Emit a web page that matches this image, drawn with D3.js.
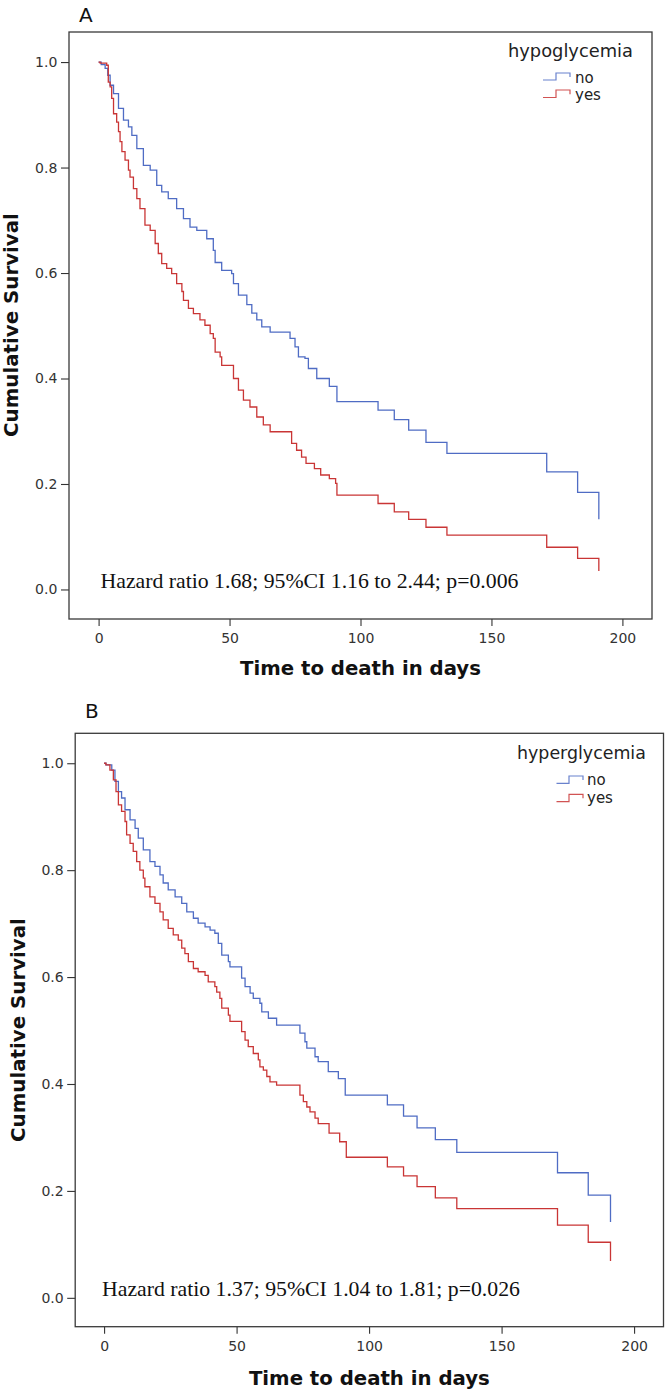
<!DOCTYPE html>
<html><head><meta charset="utf-8">
<script src="https://cdn.jsdelivr.net/npm/d3@7/dist/d3.min.js"></script>
<style>body{margin:0;background:#fff}</style>
</head><body><svg id="c" width="666" height="1391"></svg>
<script>
// ---- data (time in days, cumulative survival after event) ----
const xTickValues = [0, 50, 100, 150, 200];
const yTickValues = [0, 0.2, 0.4, 0.6, 0.8, 1.0];
const groupLabels = ["no", "yes"];
const panelLetters = ["A", "B"];
const legendTitles = ["hypoglycemia", "hyperglycemia"];
const hazardNotes = [
  "Hazard ratio 1.68; 95%CI 1.16 to 2.44; p=0.006",
  "Hazard ratio 1.37; 95%CI 1.04 to 1.81; p=0.026"
];

const hypoNo = [[0,1],[1.0,0.995],[2.5,0.988],[3.5,0.975],[4.4,0.956],[5.7,0.940],[7.6,0.912],[9.5,0.890],[11.4,0.877],[12.7,0.861],[14.6,0.836],[17.1,0.804],[19.7,0.795],[22.2,0.766],[24.1,0.754],[26.6,0.741],[29.8,0.722],[32.4,0.703],[34.9,0.687],[37.5,0.681],[41.3,0.665],[43.8,0.643],[44.5,0.620],[47.0,0.605],[50.8,0.599],[51.5,0.580],[53.4,0.558],[56.6,0.540],[58.5,0.524],[60.4,0.511],[62.3,0.498],[65.5,0.488],[73.1,0.476],[75.0,0.460],[76.3,0.441],[78.8,0.438],[80.1,0.419],[83.3,0.400],[88.1,0.385],[91.0,0.356],[106.7,0.340],[112.9,0.322],[118.4,0.302],[125.0,0.279],[133.0,0.258],[171.1,0.223],[182.9,0.184],[191.0,0.184],[191.0,0.133]];
const hypoYes = [[0,1],[0.6,0.998],[3.1,0.994],[3.7,0.962],[4.4,0.953],[5.0,0.931],[5.7,0.902],[6.9,0.886],[7.6,0.868],[8.2,0.849],[8.9,0.830],[10.1,0.814],[11.4,0.795],[12.0,0.782],[13.3,0.760],[14.6,0.741],[15.8,0.722],[17.7,0.691],[19.7,0.681],[21.6,0.656],[22.8,0.637],[24.1,0.618],[26.0,0.609],[27.9,0.599],[29.8,0.580],[31.8,0.565],[32.4,0.548],[34.3,0.533],[36.2,0.523],[38.7,0.511],[40.6,0.501],[42.6,0.485],[43.8,0.476],[44.5,0.450],[46.4,0.441],[47.0,0.425],[51.5,0.400],[53.4,0.378],[55.3,0.359],[57.8,0.346],[60.4,0.327],[62.9,0.312],[65.5,0.299],[73.7,0.277],[75.6,0.264],[77.5,0.251],[79.2,0.239],[82.4,0.229],[84.8,0.217],[88.1,0.210],[90.5,0.201],[91.0,0.179],[106.7,0.163],[112.9,0.147],[118.4,0.133],[125.0,0.118],[133.0,0.103],[171.1,0.080],[182.9,0.059],[191.0,0.059],[191.0,0.035]];
const hyperNo = [[0,1],[0.7,0.997],[2.9,0.987],[4.1,0.966],[5.4,0.947],[6.6,0.935],[7.9,0.913],[9.8,0.894],[11.7,0.878],[12.9,0.860],[14.8,0.838],[17.3,0.816],[19.2,0.807],[21.1,0.791],[22.3,0.776],[24.2,0.763],[26.8,0.750],[29.3,0.738],[31.2,0.722],[33.7,0.710],[35.5,0.701],[38.1,0.694],[40.0,0.688],[41.8,0.682],[43.1,0.663],[44.4,0.641],[46.9,0.629],[47.5,0.619],[51.9,0.598],[53.2,0.582],[55.1,0.570],[56.3,0.560],[58.8,0.551],[59.5,0.535],[62.0,0.523],[65.1,0.510],[73.9,0.495],[75.8,0.479],[76.5,0.467],[79.6,0.451],[80.8,0.442],[84.6,0.423],[88.4,0.410],[91.0,0.379],[106.9,0.361],[113.0,0.340],[118.1,0.318],[125.0,0.296],[133.1,0.272],[171.1,0.234],[182.7,0.192],[191.1,0.192],[191.1,0.142]];
const hyperYes = [[0,1],[0.7,0.997],[2.2,0.987],[3.5,0.969],[4.5,0.947],[5.4,0.922],[6.6,0.910],[7.9,0.891],[8.5,0.866],[9.8,0.850],[11.0,0.835],[12.3,0.816],[13.5,0.800],[14.8,0.785],[15.4,0.769],[17.3,0.750],[19.2,0.738],[21.1,0.722],[22.3,0.707],[24.2,0.691],[26.1,0.679],[28.0,0.669],[29.3,0.654],[30.5,0.644],[31.8,0.629],[33.7,0.616],[35.5,0.610],[38.1,0.603],[39.3,0.591],[41.8,0.582],[42.5,0.572],[43.7,0.560],[44.4,0.542],[46.9,0.529],[47.5,0.517],[51.9,0.498],[53.2,0.482],[54.4,0.470],[56.3,0.457],[58.2,0.445],[58.8,0.432],[60.1,0.426],[61.4,0.414],[62.6,0.404],[65.1,0.398],[73.9,0.379],[75.2,0.367],[76.5,0.357],[77.7,0.348],[79.6,0.336],[80.8,0.326],[84.9,0.308],[88.9,0.292],[91.4,0.263],[106.9,0.245],[113.0,0.228],[118.1,0.208],[125.0,0.187],[133.1,0.167],[171.1,0.136],[182.7,0.104],[191.1,0.104],[191.1,0.069]];

// ---- layout ----
const colors = ["#4f6cc4", "#c93535"];
const layouts = [
  { frame:{l:69,r:652,t:32,b:619}, xDom:[-11.3,211.3], yDom:[-0.056,1.057],
    letter:{x:79,y:22}, ylab:{x:18,y:325}, xlab:{y:675},
    legend:{tx:508,ty:56.7,tw:125, sx:543, sstep:556, sx2:570, rows:[{lo:80,hi:73,end:77,ty:83.3},{lo:97.5,hi:90,end:94.3,ty:100}], itx:575},
    note:{x:100.5,y:588}, series:[hypoNo, hypoYes], ylabPad:3.7 },
  { frame:{l:75.2,r:663.5,t:733.3,b:1326.7}, xDom:[-10.9,211.1], yDom:[-0.054,1.056],
    letter:{x:85,y:718}, ylab:{x:25,y:1030}, xlab:{y:1385},
    legend:{tx:517,ty:759.3,tw:129, sx:556.5, sstep:569, sx2:583, rows:[{lo:783.3,hi:776,end:780,ty:785},{lo:801.7,hi:794.3,end:798.3,ty:803.3}], itx:587},
    note:{x:102,y:1295.7}, series:[hyperNo, hyperYes], ylabPad:3.5 }
];

const svg = d3.select("#c");
const sans = "'DejaVu Sans', Verdana, sans-serif";
const ink = "#222";

function fitWidth(sel, size, target) {
  const w = sel.node().getComputedTextLength();
  sel.attr("font-size", size * target / w);
}

layouts.forEach((L, i) => {
  const f = L.frame;
  const x = d3.scaleLinear().domain(L.xDom).range([f.l, f.r]);
  const y = d3.scaleLinear().domain(L.yDom).range([f.b, f.t]);
  const g = svg.append("g");

  // panel letter
  g.append("text").attr("x", L.letter.x).attr("y", L.letter.y)
    .attr("font-family", sans).attr("font-size", 20).attr("fill", "#111")
    .text(panelLetters[i]);

  // y axis
  const ya = g.append("g").attr("transform", `translate(${f.l},0)`)
    .call(d3.axisLeft(y).tickValues(yTickValues).tickFormat(d3.format(".1f")).tickSize(8).tickPadding(L.ylabPad));
  ya.select(".domain").remove();
  ya.selectAll("line").attr("stroke", "#333").attr("stroke-width", 1.1);
  ya.selectAll("text").attr("font-family", sans).attr("font-size", 14).attr("fill", "#333");

  // x axis
  const xa = g.append("g").attr("transform", `translate(0,${f.b})`)
    .call(d3.axisBottom(x).tickValues(xTickValues).tickFormat(d3.format("d")).tickSize(7).tickPadding(7));
  xa.select(".domain").remove();
  xa.selectAll("line").attr("stroke", "#333").attr("stroke-width", 1.1);
  xa.selectAll("text").attr("font-family", sans).attr("font-size", 14).attr("fill", "#333");

  // frame
  g.append("rect").attr("x", f.l).attr("y", f.t).attr("width", f.r - f.l).attr("height", f.b - f.t)
    .attr("fill", "none").attr("stroke", "#3a3a3a").attr("stroke-width", 1.3);

  // axis titles
  const yt = g.append("text").attr("transform", `translate(${L.ylab.x},${L.ylab.y}) rotate(-90)`)
    .attr("text-anchor", "middle").attr("font-family", sans).attr("font-weight", "bold")
    .attr("font-size", 18).attr("fill", "#111").text("Cumulative Survival");
  fitWidth(yt, 18, 224);
  const xt = g.append("text").attr("x", (f.l + f.r) / 2).attr("y", L.xlab.y)
    .attr("text-anchor", "middle").attr("font-family", sans).attr("font-weight", "bold")
    .attr("font-size", 18).attr("fill", "#111").text("Time to death in days");
  fitWidth(xt, 18, 241);

  // survival curves
  const line = d3.line().x(d => x(d[0])).y(d => y(d[1])).curve(d3.curveStepAfter);
  L.series.forEach((s, k) => {
    g.append("path").datum(s).attr("d", line).attr("fill", "none")
      .attr("stroke", colors[k]).attr("stroke-width", 1.3);
  });

  // legend
  const lg = L.legend;
  const lt = g.append("text").attr("x", lg.tx).attr("y", lg.ty).attr("font-family", sans)
    .attr("font-size", 17).attr("fill", ink).text(legendTitles[i]);
  fitWidth(lt, 17, lg.tw);
  groupLabels.forEach((lab, k) => {
    const r = lg.rows[k];
    g.append("path").attr("d", `M${lg.sx},${r.lo}H${lg.sstep}V${r.hi}H${lg.sx2}V${r.end}`)
      .attr("fill", "none").attr("stroke", colors[k]).attr("stroke-width", 1.2).attr("opacity", 0.85);
    g.append("text").attr("x", lg.itx).attr("y", r.ty).attr("font-family", sans)
      .attr("font-size", 15).attr("fill", ink).text(lab);
  });

  // hazard note
  const nt = g.append("text").attr("x", L.note.x).attr("y", L.note.y)
    .attr("font-family", "'Liberation Serif', 'Times New Roman', serif")
    .attr("font-size", 20).attr("fill", "#111").text(hazardNotes[i]);
  fitWidth(nt, 20, 418);
});
</script></body></html>
